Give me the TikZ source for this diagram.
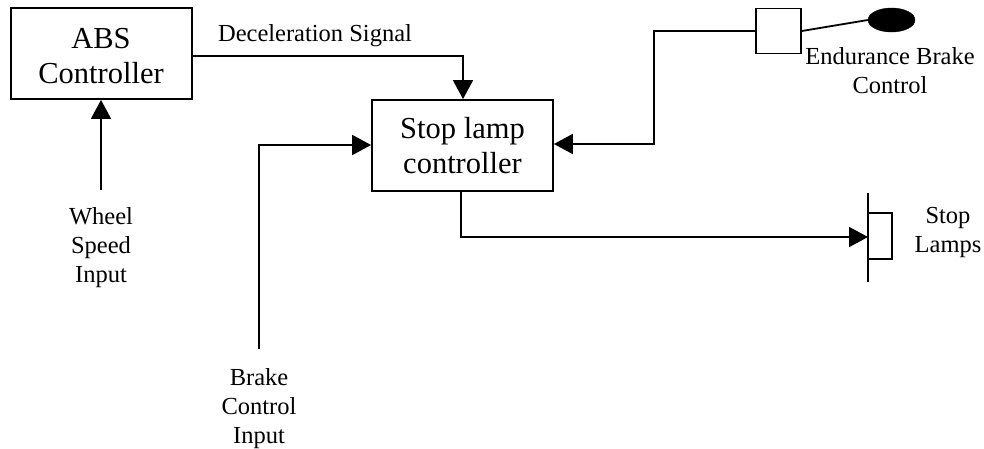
\documentclass[tikz,border=0pt]{standalone}
\usepackage{fontspec}
\setmainfont{Liberation Serif}
\usetikzlibrary{arrows.meta,shapes.geometric}
\tikzset{
  blk/.style={draw, line width=1.8pt, inner sep=0pt, minimum width=181pt, minimum height=91pt},
  big/.style={inner sep=0pt, align=center, anchor=base, font=\fontsize{30.5}{35}\selectfont},
  lbl/.style={inner sep=0pt, align=center, anchor=base, font=\fontsize{24.5}{29}\selectfont},
  wire/.style={line width=1.8pt},
  arr/.style={line width=1.8pt, -{Triangle[length=19pt,width=20pt]}},
}
\begin{document}
\begin{tikzpicture}[x=1pt,y=-1pt]
\useasboundingbox (0,0) rectangle (984,448);
% blocks
\node[blk] (abs) at (101.5,53.5) {};
\node[blk] (slc) at (462.5,145.5) {};
\node[big] (tabs) at (101,83) {ABS\\Controller};
\node[big] (tslc) at (462.5,173) {Stop lamp\\controller};
\node[draw, line width=1.8pt, inner sep=0pt, minimum width=45pt, minimum height=45pt] (ebc) at (778.5,31) {};
\node[ellipse, fill=black, draw=black, inner sep=0pt, minimum width=47pt, minimum height=24pt] (knob) at (891.5,20) {};
\node[draw, line width=1.8pt, inner sep=0pt, minimum width=24pt, minimum height=46pt] (lamp) at (880,236) {};
% labels
\node[lbl] (ldec) at (315,41) {Deceleration Signal};
\node[lbl] (lwheel) at (101,282) {Wheel\\Speed\\Input};
\node[lbl] (lbrake) at (259,443) {Brake\\Control\\Input};
\node[lbl] (lend) at (890,93) {Endurance Brake\\Control};
\node[lbl] (lstop) at (948,252) {Stop\\Lamps};
% coordinates
\coordinate (d1) at (463,56);
\coordinate (b0) at (259,349);
\coordinate (b1) at (259,145);
\coordinate (e1) at (654,144);
\coordinate (o1) at (461,237);
\coordinate (lt) at (868,193);
\coordinate (lb) at (868,282);
\coordinate (w0) at (101,190);
% connectors
\draw[arr] (abs.east |- d1) -- (d1) -- (slc.north -| d1);
\draw[arr] (w0) -- (abs.south -| w0);
\draw[arr] (b0) -- (b1) -- (b1 -| slc.west);
\draw[arr] (ebc.west) -| (e1) -- (slc.east |- e1);
\draw[wire] (ebc.east) -- (knob.west);
\draw[wire] (lt) -- (lb);
\draw[arr] (slc.south -| o1) -- (o1) -- (lt |- o1);
\end{tikzpicture}
\end{document}
